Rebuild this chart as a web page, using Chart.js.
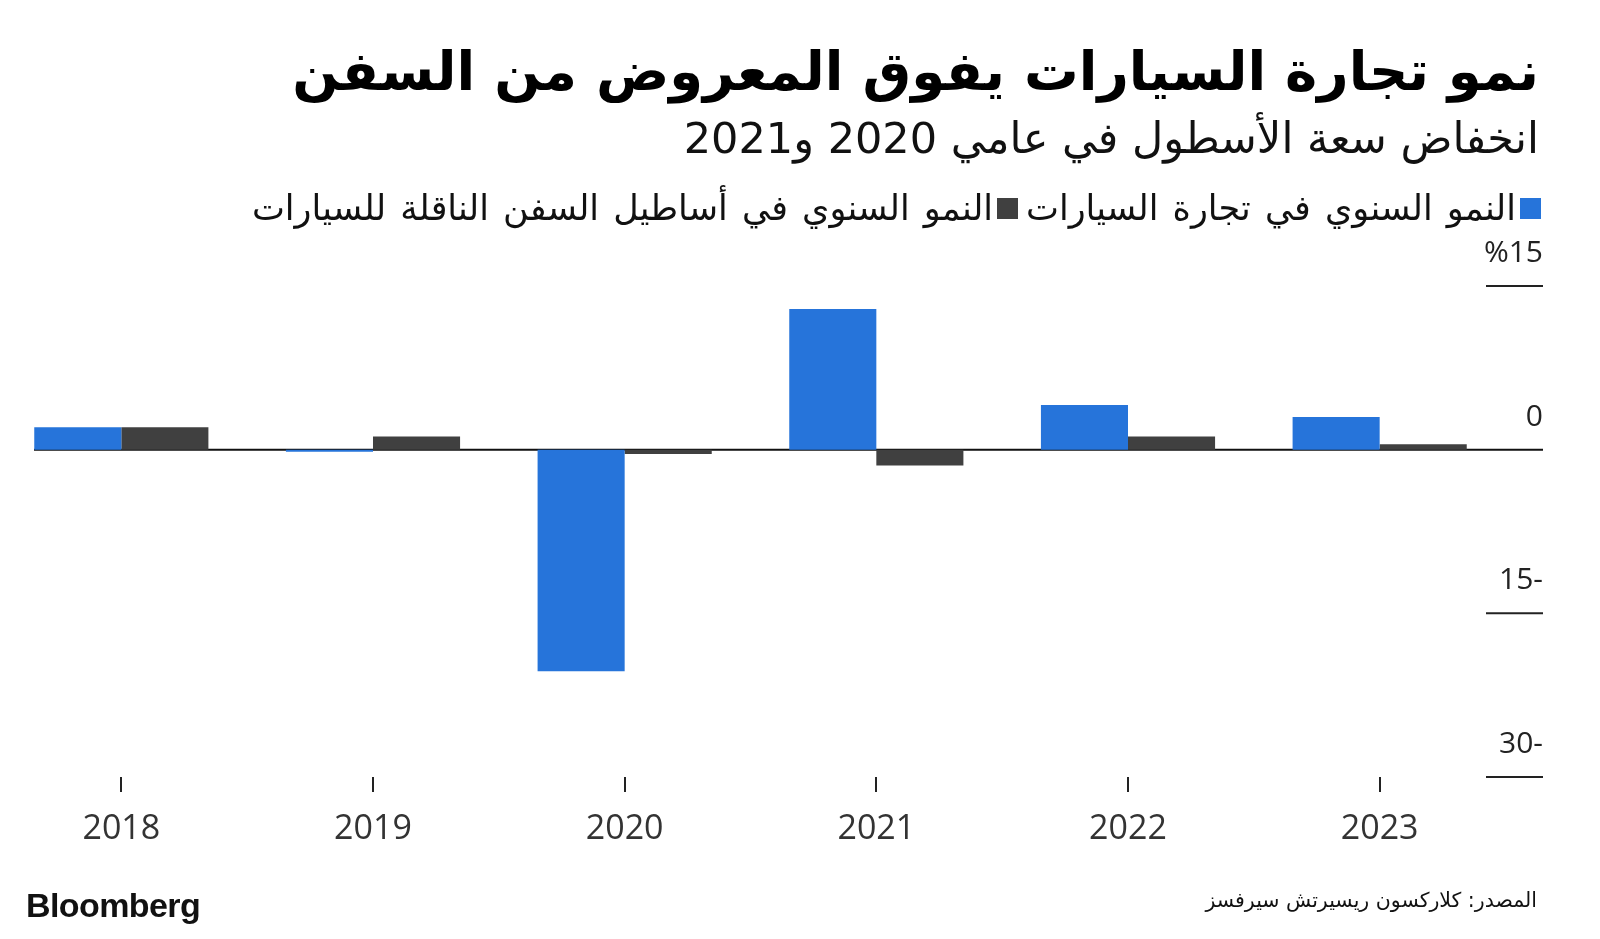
<!DOCTYPE html>
<html>
<head>
<meta charset="utf-8">
<script src="https://cdn.jsdelivr.net/npm/chart.js@4.4.1/dist/chart.umd.min.js"></script>
<style>
  body { margin: 0; background: #fff; width: 1600px; height: 939px; overflow: hidden; position: relative; font-family: "DejaVu Sans", sans-serif; }
  #wrap { position: absolute; left: 0; top: 0; width: 1600px; height: 939px; }
  .t { position: absolute; white-space: nowrap; direction: rtl; line-height: 1; }
  #title { right: 61px; top: 44px; font-size: 54.5px; font-weight: bold; color: #000; }
  #subtitle { right: 61px; top: 117px; font-size: 43px; color: #111; }
  #legend { right: 59px; top: 191px; display: flex; align-items: center; font-size: 35px; word-spacing: 3px; color: #111; }
  #legend .sq { width: 21px; height: 21px; margin-left: 4px; }
  #legend .item { display: flex; align-items: center; margin-left: 8px; }
  #source { right: 63px; top: 890px; font-size: 20.5px; color: #111; }
  #logo { position: absolute; left: 26px; top: 888px; font-family: "Liberation Sans", Arial, sans-serif; font-weight: bold; font-size: 34px; letter-spacing: -0.6px; color: #111; line-height: 1; }
</style>
</head>
<body>
<div id="wrap"><canvas id="chart" width="1600" height="939"></canvas></div>
<div class="t" id="title">نمو تجارة السيارات يفوق المعروض من السفن</div>
<div class="t" id="subtitle">انخفاض سعة الأسطول في عامي 2020 و2021</div>
<div class="t" id="legend"></div>
<div class="t" id="source">المصدر: كلاركسون ريسيرتش سيرفسز</div>
<div id="logo">Bloomberg</div>
<script>
// data (annual growth, %)
const years = [2018, 2019, 2020, 2021, 2022, 2023];
const tradeGrowth = [2.05, -0.2, -20.3, 12.9, 4.1, 3.0];
const fleetGrowth = [2.05, 1.2, -0.4, -1.45, 1.2, 0.5];
const seriesNames = ['النمو السنوي في تجارة السيارات', 'النمو السنوي في أساطيل السفن الناقلة للسيارات'];
const seriesColors = ['#2674da', '#404040'];
const yTicks = [15, 0, -15, -30];
const yTickLabels = ['%15', '0', '15-', '30-'];

// legend
document.getElementById('legend').innerHTML = seriesNames.map((name, i) => `
  <div class="item"><div class="sq" style="background:${seriesColors[i]}"></div><span>${name}</span></div>
`).join('');

// zero line, short right-hand gridlines and y labels
const axisPlugin = {
  id: 'axisLines',
  beforeDatasetsDraw(chart) {
    const { ctx, chartArea, scales: { y } } = chart;
    const y0 = y.getPixelForValue(0);
    ctx.save();
    ctx.strokeStyle = '#111';
    ctx.lineWidth = 2;
    ctx.beginPath();
    ctx.moveTo(chartArea.left, y0);
    ctx.lineTo(chartArea.right, y0);
    ctx.stroke();
    ctx.restore();
  },
  afterDatasetsDraw(chart) {
    const { ctx, chartArea, scales: { y } } = chart;
    ctx.save();
    ctx.strokeStyle = '#222';
    ctx.lineWidth = 2;
    ctx.fillStyle = '#222';
    ctx.font = '30px "Open Sans", sans-serif';
    ctx.textAlign = 'right';
    ctx.textBaseline = 'alphabetic';
    yTicks.forEach((v, i) => {
      const py = y.getPixelForValue(v);
      if (v !== 0) {
        ctx.beginPath();
        ctx.moveTo(chartArea.right - 57, py);
        ctx.lineTo(chartArea.right, py);
        ctx.stroke();
      }
      ctx.direction = 'ltr';
      ctx.fillText(yTickLabels[i], chartArea.right, py - 24);
    });
    ctx.restore();
  }
};

new Chart(document.getElementById('chart'), {
  type: 'bar',
  data: {
    datasets: [
      { label: seriesNames[0], data: years.map((x, i) => ({ x, y: tradeGrowth[i] })), backgroundColor: seriesColors[0], borderWidth: 0 },
      { label: seriesNames[1], data: years.map((x, i) => ({ x, y: fleetGrowth[i] })), backgroundColor: seriesColors[1], borderWidth: 0 }
    ]
  },
  options: {
    responsive: false,
    animation: false,
    categoryPercentage: 0.692,
    barPercentage: 1,
    layout: { padding: { left: 34, right: 57, top: 286, bottom: 92 } },
    plugins: { legend: { display: false }, tooltip: { enabled: false } },
    scales: {
      x: {
        type: 'linear',
        offset: false,
        min: 2017.653,
        max: 2023.649,
        afterBuildTicks: s => { s.ticks = years.map(v => ({ value: v })); },
        afterFit: s => { s.height = 70; },
        grid: { offset: false, drawOnChartArea: false, drawTicks: true, tickLength: 15, color: '#222', lineWidth: 2 },
        border: { display: false },
        ticks: { callback: v => String(v), font: { family: 'Open Sans', size: 34 }, color: '#333', padding: 17, maxRotation: 0, autoSkip: false }
      },
      y: { min: -30, max: 15, display: false }
    }
  },
  plugins: [axisPlugin]
});
</script>
</body>
</html>
